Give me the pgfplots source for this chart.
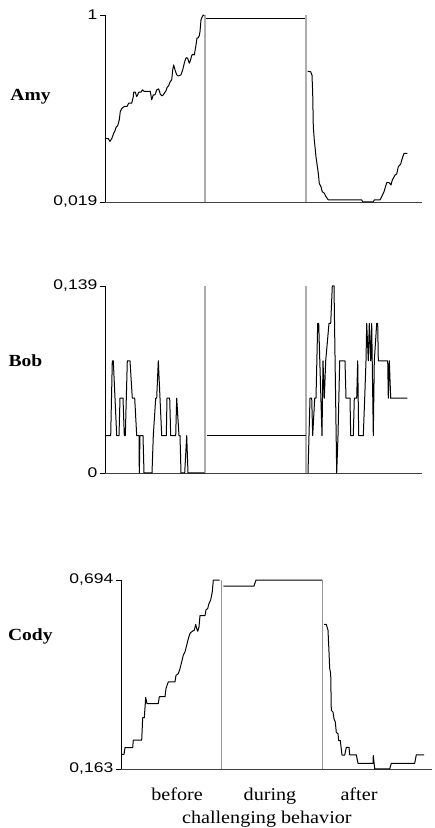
\documentclass[border=0pt]{standalone}
\usepackage{pgfplots}
\pgfplotsset{compat=1.18}
\usepackage{fontspec}
\setmainfont{Liberation Serif}
\newfontfamily\arial{Liberation Sans}

\pgfplotsset{
  panel/.style={
    scale only axis, enlargelimits=false, clip=false,
    axis x line*=bottom, axis y line*=left,
    axis line style={-, line width=0.9pt},
    x axis line style={black!75},
    y axis line style={black},
    tick align=outside, major tick length=5pt,
    ytick style={line width=0.8pt, black},
    xtick=\empty,
    yticklabel style={font=\fontsize{14}{16}\selectfont\arial, xscale=1.25, inner sep=2pt},
  },
  curve/.style={black, line width=1pt, mark=none, line join=round},
  gline/.style={draw=black!32, line width=1.5pt, mark=none, forget plot},
}

\begin{document}
\begin{tikzpicture}
\useasboundingbox (0pt,0pt) rectangle (435pt,828pt);

% ---------------- Amy ----------------
\begin{axis}[panel, at={(105pt,626pt)}, anchor=south west,
  width=317pt, height=187pt, xmin=0, xmax=317, ymin=0.019, ymax=1,
  ytick={0.019,1}, yticklabels={{0,019},{1}}]
\addplot[gline] coordinates {(100,0.019) (100,1)};
\addplot[gline] coordinates {(201,0.019) (201,1)};
\addplot[curve] coordinates {
(0,0.354) (3.3,0.351) (5,0.337) (7,0.354) (8.7,0.380) (10,0.393) (11,0.410) (12.7,0.420)
(14.3,0.450) (15.3,0.494) (17,0.511) (19.3,0.520) (22,0.520) (23.7,0.537) (26.7,0.537)
(28.3,0.572) (28.7,0.595) (30.3,0.595) (31.7,0.572) (32.7,0.581) (33.7,0.595) (36,0.595)
(37.3,0.607) (39.3,0.599) (45.3,0.599) (46.7,0.555) (48.3,0.581) (50,0.581) (51.7,0.607)
(53.7,0.612) (55.3,0.585) (56.7,0.577) (57.7,0.577) (59.3,0.590) (61,0.602) (62,0.619)
(63.7,0.630) (65,0.648) (66.7,0.660) (67.7,0.712) (68.7,0.738) (70,0.712) (71.7,0.686)
(73.3,0.680) (76,0.686) (77.7,0.712) (79.3,0.747) (80.3,0.765) (81.3,0.776) (82.7,0.773)
(84.3,0.747) (85.3,0.759) (86.7,0.787) (87.7,0.794) (89.3,0.790) (91,0.843) (92,0.878)
(93.3,0.881) (94.3,0.892) (95,0.913) (96,0.974) (97,0.988) (98.3,1.0) (99.3,0.997)};
\addplot[curve] coordinates {(100.5,0.983) (200,0.983)};
\addplot[curve] coordinates {
(202.7,0.705) (205.7,0.702) (207,0.684) (207.7,0.589) (208.3,0.414) (209.3,0.344)
(211,0.256) (213.3,0.169) (214.3,0.117) (216,0.099) (217.3,0.073) (219.3,0.065)
(221,0.047) (223.3,0.030) (256.7,0.030) (257.7,0.019) (268.3,0.019) (269.3,0.030)
(275,0.030) (276.7,0.047) (279,0.073) (281.7,0.120) (284.3,0.120) (286,0.108)
(287.3,0.134) (290,0.160) (291.7,0.166) (293.3,0.204) (295.7,0.218) (296.7,0.239)
(299,0.274) (302.3,0.274)};
\end{axis}

% ---------------- Bob ----------------
\begin{axis}[panel, at={(105pt,355pt)}, anchor=south west,
  width=317pt, height=187pt, xmin=0, xmax=317, ymin=0, ymax=0.139,
  ytick={0,0.139}, yticklabels={{0},{0,139}}]
\addplot[gline] coordinates {(100,0) (100,0.139)};
\addplot[gline] coordinates {(201,0) (201,0.139)};
\addplot[curve] coordinates {
(0,0.0278) (5.7,0.0278) (7.3,0.0834) (8.3,0.0834) (11.7,0.0278) (14,0.0278) (15,0.0556)
(18,0.0556) (19.3,0.0278) (20.3,0.0278) (22.3,0.0834) (25,0.0834) (27.3,0.0556)
(29.7,0.0556) (31.7,0.0278) (34,0.0278) (34.3,0) (35,0.0278) (38,0.0278) (39,0) (47,0)
(48.3,0.0278) (50.7,0.0556) (51.7,0.0556) (53.3,0.0834) (56.7,0.0278) (61.3,0.0278)
(62,0.0556) (64.7,0.0556) (65.7,0.0278) (70.7,0.0278) (71.7,0.0556) (74,0.0278)
(75,0.0278) (76,0) (79.7,0) (81.7,0.0278) (83,0) (99.7,0)};
\addplot[curve] coordinates {(102.3,0.0278) (200.7,0.0278)};
\addplot[curve] coordinates {
(203,0) (205,0.0556) (206.7,0.0556) (207.7,0.0278) (209.7,0.0556) (211,0.0556)
(212.7,0.1112) (213.7,0.1112) (217,0.0278) (218,0.0834) (219.3,0.0556) (220.7,0.0834)
(224,0.1112) (225.7,0.1112) (227.3,0.139) (229,0.139) (231.7,0) (233,0.0278)
(234.7,0.0834) (240,0.0834) (241,0.0556) (245,0.0556) (245.7,0.0278) (248.3,0.0278)
(249.3,0.0556) (251.7,0.0556) (252.7,0.0834) (253.7,0.0278) (258.3,0.0278)
(259.7,0.0556) (261,0.0834) (261.7,0.1112) (263.3,0.0834) (264.3,0.1112) (265.7,0.0834)
(266.7,0.1112) (268.3,0.0278) (269.3,0.0834) (271.7,0.1112) (272.7,0.1112) (273.3,0.0834)
(282.7,0.0834) (283.3,0.0556) (284.3,0.0834) (285.7,0.0556) (302.3,0.0556)};
\end{axis}

% ---------------- Cody ----------------
\begin{axis}[panel, at={(121pt,59pt)}, anchor=south west,
  width=311pt, height=189pt, xmin=0, xmax=311, ymin=0.163, ymax=0.694,
  ytick={0.163,0.694}, yticklabels={{0,163},{0,694}},
  xtick={56,149,238}, xticklabels={before,during,after},
  xtick style={draw=none},
  xticklabel style={font=\fontsize{18}{20}\selectfont, xscale=1.12, anchor=base, yshift=-26pt},
  xlabel={challenging behavior},
  xlabel style={at={(axis description cs:0.469,0)}, anchor=base, yshift=-54pt,
    font=\fontsize{18}{20}\selectfont, xscale=1.12}]
\addplot[gline, draw=black!42, line width=1pt] coordinates {(100.3,0.163) (100.3,0.694)};
\addplot[gline, draw=black!42, line width=1pt] coordinates {(201,0.163) (201,0.694)};
\addplot[curve] coordinates {
(0.7,0.204) (3,0.204) (4,0.223) (11.7,0.223) (12.3,0.244) (20.7,0.244) (21.7,0.307)
(23.3,0.307) (24.7,0.364) (26,0.347) (37.3,0.347) (38.3,0.366) (44,0.366) (45,0.389)
(47.3,0.408) (54,0.408) (55,0.426) (57.3,0.431) (59,0.445) (60.7,0.464) (62.3,0.483)
(64,0.492) (65.7,0.511) (67.3,0.529) (69,0.544) (71.3,0.550) (73.3,0.553) (74.7,0.569)
(75.7,0.558) (76.7,0.550) (78,0.562) (79,0.594) (84,0.594) (85,0.610) (86.7,0.614)
(88,0.628) (89.7,0.638) (91.3,0.661) (92.3,0.694) (98.5,0.694)};
\addplot[curve] coordinates {(102.3,0.677) (133,0.677) (135,0.694) (201,0.694)};
\addplot[curve] coordinates {
(203,0.569) (205.3,0.569) (207,0.553) (208,0.492) (208.7,0.445) (209.7,0.431)
(210.3,0.328) (212,0.323) (213,0.304) (214.3,0.295) (215.3,0.266) (217,0.262)
(217.7,0.243) (219.3,0.243) (220.3,0.219) (221,0.202) (223.7,0.202) (225.3,0.224)
(228,0.224) (228.7,0.203) (235.3,0.203) (237,0.179) (252,0.179) (252.3,0.201)
(253.7,0.163) (268.7,0.163) (270.3,0.179) (293.7,0.179) (295.3,0.203) (303,0.203)};
\end{axis}

% panel names
\node[font=\fontsize{17}{19}\selectfont\bfseries, xscale=1.15, anchor=base] at (30.5pt,727.3pt) {Amy};
\node[font=\fontsize{17}{19}\selectfont\bfseries, xscale=1.15, anchor=base] at (25.5pt,461.3pt) {Bob};
\node[font=\fontsize{17}{19}\selectfont\bfseries, xscale=1.15, anchor=base] at (30.3pt,187.3pt) {Cody};
\end{tikzpicture}
\end{document}
